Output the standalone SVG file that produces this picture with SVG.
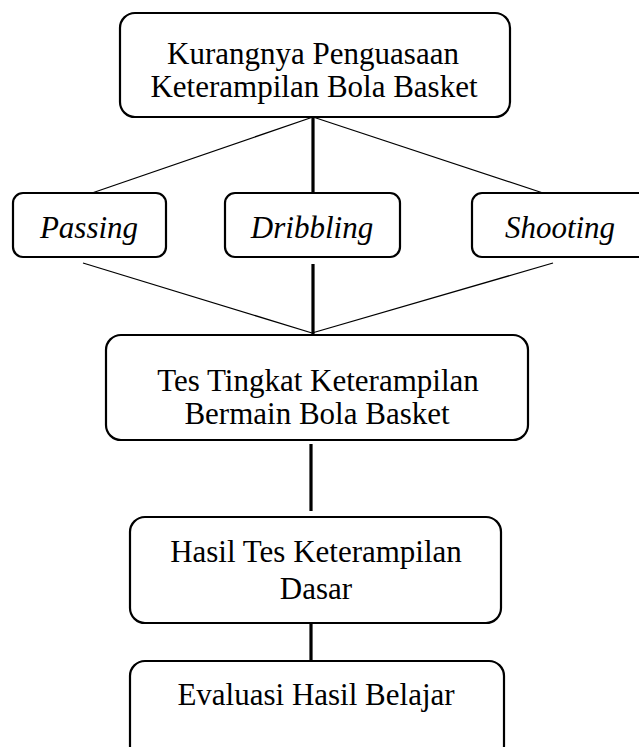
<svg xmlns="http://www.w3.org/2000/svg" width="639" height="747" viewBox="0 0 639 747">
<style>
.box{fill:#fff;stroke:#000;stroke-width:2.2}
.t{font-family:"Liberation Serif","Times New Roman",serif;font-size:31px;fill:#000;text-anchor:middle}
.i{font-style:italic}
.thin{stroke:#000;stroke-width:1.3;fill:none}
.thick{stroke:#000;stroke-width:3.2;fill:none}
</style>
<rect width="639" height="747" fill="#fff"/>
<g id="connectors">
<line class="thin" x1="313" y1="117" x2="92" y2="193"/>
<line class="thin" x1="313" y1="117" x2="543" y2="193"/>
<line class="thick" x1="313" y1="117" x2="313" y2="197"/>
<line class="thin" x1="83" y1="263" x2="312" y2="333"/>
<line class="thin" x1="553" y1="263" x2="312" y2="333"/>
<line class="thick" x1="313" y1="264" x2="313" y2="335"/>
<line class="thick" x1="311" y1="444" x2="311" y2="511"/>
<line class="thick" x1="311" y1="623" x2="311" y2="661"/>
</g>
<g id="node-top">
<rect class="box" x="120" y="13" width="390" height="104" rx="15"/>
<text class="t" x="313" y="64">Kurangnya Penguasaan</text>
<text class="t" x="314" y="97">Keterampilan Bola Basket</text>
</g>
<g id="node-passing">
<rect class="box" x="13" y="193" width="153" height="64" rx="10"/>
<text class="t i" x="89" y="238">Passing</text>
</g>
<g id="node-dribbling">
<rect class="box" x="225" y="193" width="175" height="64" rx="10"/>
<text class="t i" x="312" y="238">Dribbling</text>
</g>
<g id="node-shooting">
<rect class="box" x="472" y="193" width="180" height="64" rx="10"/>
<text class="t i" x="560" y="238">Shooting</text>
</g>
<g id="node-tes">
<rect class="box" x="106" y="335" width="422" height="105" rx="15"/>
<text class="t" x="318" y="391">Tes Tingkat Keterampilan</text>
<text class="t" x="317" y="424">Bermain Bola Basket</text>
</g>
<g id="node-hasil">
<rect class="box" x="130" y="517" width="371" height="106" rx="15"/>
<text class="t" x="316" y="562">Hasil Tes Keterampilan</text>
<text class="t" x="316" y="599">Dasar</text>
</g>
<g id="node-evaluasi">
<rect class="box" x="130" y="661" width="374" height="100" rx="15"/>
<text class="t" x="316" y="705">Evaluasi Hasil Belajar</text>
</g>
</svg>
